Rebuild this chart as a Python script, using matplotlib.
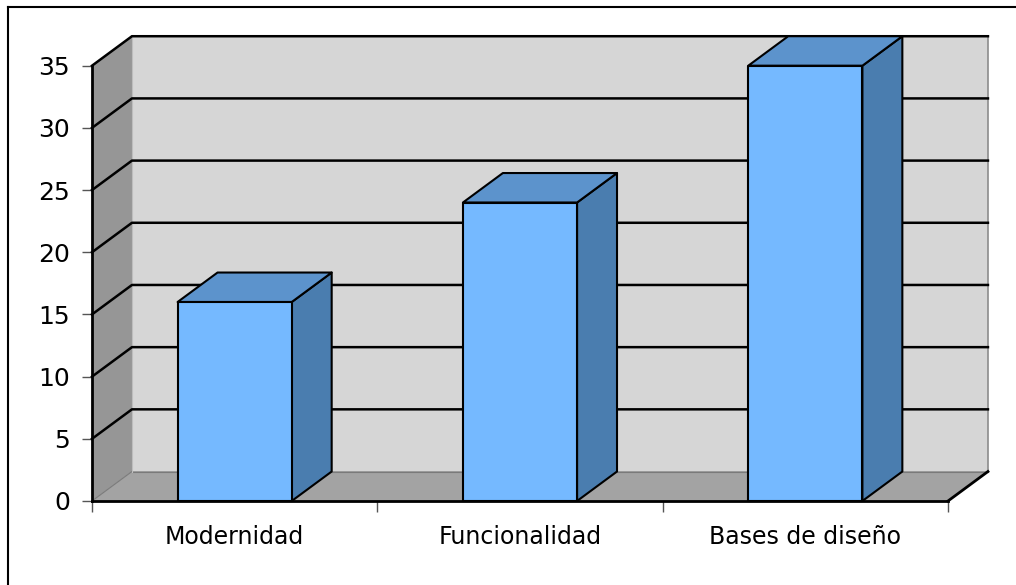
"""
Pseudo-3D column chart: Modernidad / Funcionalidad / Bases de diseño
"""

import matplotlib
matplotlib.use("Agg")
import matplotlib.pyplot as plt
from matplotlib.patches import Polygon, Rectangle
from matplotlib.lines import Line2D


# ---------------------------------------
# Data
# ---------------------------------------

categories = ["Modernidad", "Funcionalidad", "Bases de diseño"]
values = [16, 24, 35]
y_ticks = [0, 5, 10, 15, 20, 25, 30, 35]

# ---------------------------------------
# Style
# ---------------------------------------

W, H = 1016, 585
DX, DY = 0.14, 2.37          # depth offset in data units
BAR_LO, BAR_HI = 0.3, 0.7    # bar extent inside a category slot
Y_MAX = 35

col_front = "#75b9ff"
col_top = "#5c93cc"
col_side = "#4a7daf"
col_back = "#d6d6d6"
col_left = "#969696"
col_floor = "#a3a3a3"

fig = plt.figure(figsize=(W / 100, H / 100), dpi=100)

# front plane: x 0..3 -> px 92..948, y 0..35 -> px 501..65.7
left = 92 / W
width = (948 - 92) / W
bottom = (H - 501) / H
height = (501 - 65.7) / H
ax = fig.add_axes([left, bottom, width, height])
ax.set_xlim(0, len(categories))
ax.set_ylim(0, Y_MAX)
ax.patch.set_visible(False)

n = len(categories)

# ---------------------------------------
# Walls and floor
# ---------------------------------------

ax.add_patch(Polygon([(DX, DY), (n + DX, DY), (n + DX, Y_MAX + DY), (DX, Y_MAX + DY)],
                     closed=True, facecolor=col_back, edgecolor="#8c8c8c",
                     linewidth=1.2, clip_on=False, zorder=1))
ax.add_patch(Polygon([(0, 0), (DX, DY), (DX, Y_MAX + DY), (0, Y_MAX)],
                     closed=True, facecolor=col_left, edgecolor="none",
                     clip_on=False, zorder=1))
ax.add_patch(Polygon([(0, 0), (n, 0), (n + DX, DY), (DX, DY)],
                     closed=True, facecolor=col_floor, edgecolor="none",
                     clip_on=False, zorder=1))
ax.plot([DX, n + DX], [DY, DY], color="#7a7a7a", linewidth=0.8, clip_on=False, zorder=2)
ax.plot([0, DX], [0, DY], color="#7a7a7a", linewidth=0.8, clip_on=False, zorder=2)
ax.plot([DX, DX], [DY, Y_MAX + DY], color="#bdbdbd", linewidth=0.8, clip_on=False, zorder=2)
ax.plot([n, n + DX], [0, DY], color="black", linewidth=2, clip_on=False, zorder=2)

# gridlines on back wall and left wall
for v in y_ticks[1:]:
    ax.plot([0, DX, n + DX], [v, v + DY, v + DY], color="black",
            linewidth=1.8, clip_on=False, zorder=2)

# ---------------------------------------
# Bars
# ---------------------------------------

for i, v in enumerate(values):
    x0 = i + BAR_LO
    x1 = i + BAR_HI
    ax.add_patch(Polygon([(x1, 0), (x1 + DX, DY), (x1 + DX, v + DY), (x1, v)],
                         closed=True, facecolor=col_side, edgecolor="black",
                         linewidth=1.5, clip_on=False, zorder=3, joinstyle="round"))
    ax.add_patch(Polygon([(x0, v), (x1, v), (x1 + DX, v + DY), (x0 + DX, v + DY)],
                         closed=True, facecolor=col_top, edgecolor="black",
                         linewidth=1.5, clip_on=False, zorder=3, joinstyle="round"))
    ax.add_patch(Rectangle((x0, 0), x1 - x0, v, facecolor=col_front,
                           edgecolor="black", linewidth=1.5, clip_on=False,
                           zorder=4, joinstyle="round"))

# ---------------------------------------
# Axes
# ---------------------------------------

for side in ["top", "right"]:
    ax.spines[side].set_visible(False)
for side in ["left", "bottom"]:
    ax.spines[side].set_linewidth(2)
    ax.spines[side].set_zorder(5)

ax.set_yticks(y_ticks)
ax.set_yticklabels([str(t) for t in y_ticks])
ax.tick_params(axis="y", length=7, width=1, color="#555555", labelsize=18, pad=9)

ax.set_xticks([i + 0.5 for i in range(n)])
ax.set_xticklabels(categories)
ax.set_xticks(range(n + 1), minor=True)
ax.tick_params(axis="x", which="major", length=0, labelsize=17, pad=17)
ax.tick_params(axis="x", which="minor", length=8, width=1, color="#555555")

for lbl in ax.get_xticklabels() + ax.get_yticklabels():
    lbl.set_fontfamily("DejaVu Sans")

# outer frame
fig.add_artist(Line2D([8 / W, 8 / W], [0, 1 - 7 / H], transform=fig.transFigure,
                      color="black", linewidth=1.5))
fig.add_artist(Line2D([8 / W, 1], [1 - 7 / H, 1 - 7 / H], transform=fig.transFigure,
                      color="black", linewidth=1.5))

fig.savefig("out.png", dpi=100)
plt.close(fig)
